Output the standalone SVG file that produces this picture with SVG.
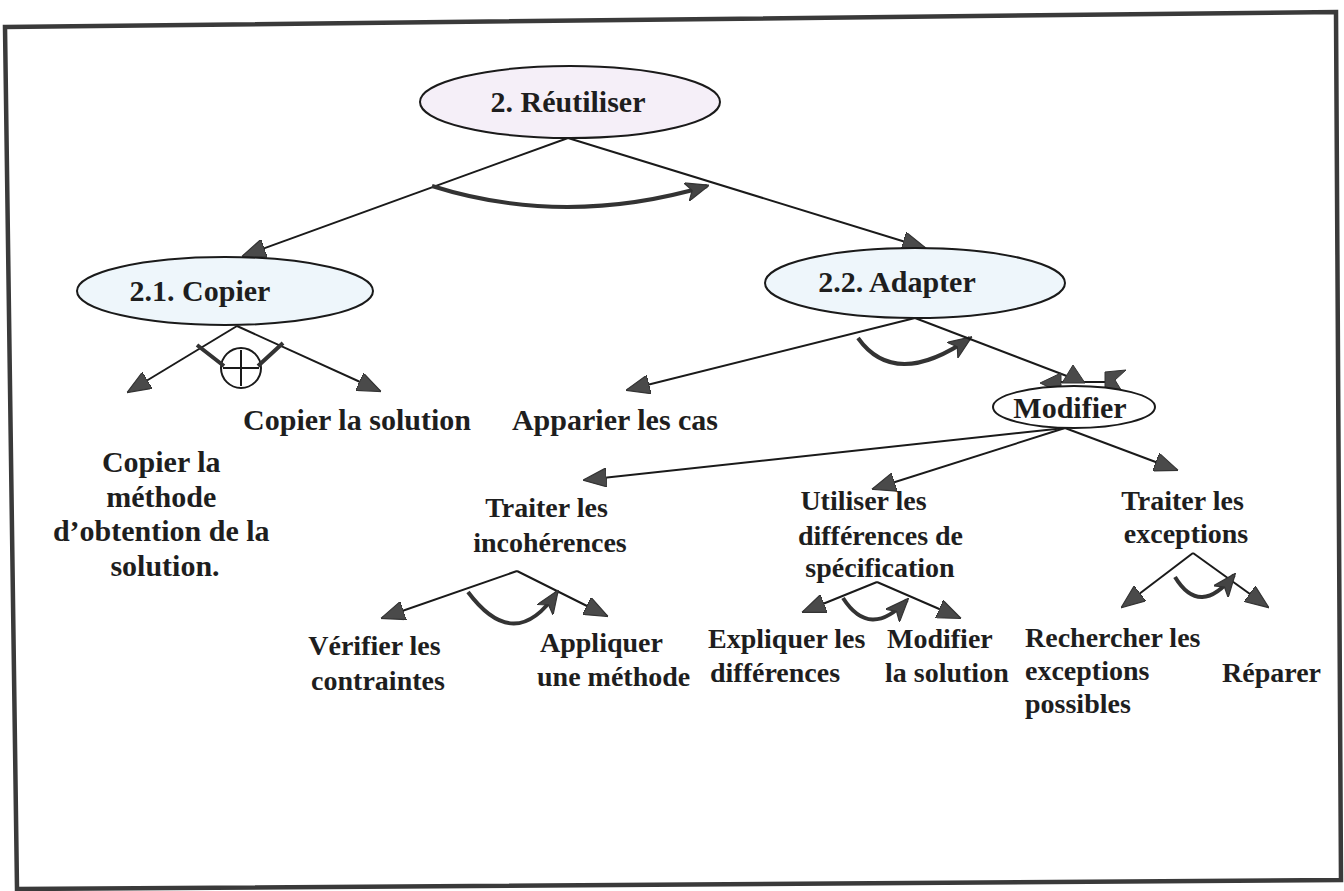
<svg xmlns="http://www.w3.org/2000/svg" width="1344" height="891" viewBox="0 0 1344 891">
  <style>
    .t { font-family: "Liberation Serif", "Times New Roman", serif; font-weight: bold; fill: #1e1e1e; }
    .big { font-size: 30px; }
    .mid { font-size: 28px; }
    .node { stroke: #1a1a1a; stroke-width: 2; }
    .edge { fill: none; stroke: #1a1a1a; stroke-width: 2; }
    .flow { fill: none; stroke: #333; stroke-width: 4; }
  </style>
  <defs>
    <marker id="head" viewBox="0 0 20 16" refX="19" refY="8" markerWidth="24" markerHeight="19" markerUnits="userSpaceOnUse" orient="auto">
      <path d="M0,0 L20,8 L0,16 Z" fill="#4a4a4a" stroke="#333" stroke-width="1"/>
    </marker>
    <marker id="headFlow" viewBox="0 0 20 16" refX="18" refY="8" markerWidth="24" markerHeight="19" markerUnits="userSpaceOnUse" orient="auto">
      <path d="M0,0 L20,8 L0,16 L5,8 Z" fill="#444" stroke="#333" stroke-width="1"/>
    </marker>
  </defs>

  <rect width="1344" height="891" fill="#ffffff"/>
  <!-- outer frame -->
  <polygon points="5,27 1336,12 1341,880 17,889" fill="none" stroke="#3a3a3a" stroke-width="4.5"/>

  <!-- connectors -->
  <g id="connectors">
    <path class="edge" d="M568,138 L243,256" marker-end="url(#head)"/>
    <path class="edge" d="M568,138 L925,248" marker-end="url(#head)"/>
    <path class="flow" d="M432,186 Q565,228 707,186" marker-end="url(#headFlow)"/>

    <path class="edge" d="M237,326 L128,392" marker-end="url(#head)"/>
    <path class="edge" d="M237,326 L380,391" marker-end="url(#head)"/>
    <g id="xor">
      <circle cx="241" cy="368" r="20" fill="#fff" stroke="#1a1a1a" stroke-width="2"/>
      <path d="M241,350 V386 M223,368 H259" stroke="#1a1a1a" stroke-width="2"/>
      <path d="M197,345 L224,366 M283,343 L258,366" stroke="#333" stroke-width="4"/>
    </g>

    <path class="edge" d="M915,318 L627,390" marker-end="url(#head)"/>
    <path class="flow" d="M858,338 Q895,390 970,338" marker-end="url(#headFlow)"/>
    <path class="edge" d="M915,318 L1072,378"/>
    <g id="modifier-heads">
      <path class="edge" d="M1045,382 L1112,382"/>
      <path d="M1040,383 L1061,373 L1061,393 Z" fill="#4a4a4a" stroke="#333"/>
      <path d="M1073,365 L1062,383 L1085,383 Z" fill="#4a4a4a" stroke="#333"/>
      <path d="M1105,372 L1126,370 L1115,380 L1123,393 L1105,390 Z" fill="#4a4a4a" stroke="#333"/>
    </g>

    <path class="edge" d="M1065,428 L584,480" marker-end="url(#head)"/>
    <path class="edge" d="M1065,428 L873,489" marker-end="url(#head)"/>
    <path class="edge" d="M1065,428 L1177,470" marker-end="url(#head)"/>

    <path class="edge" d="M517,571 L382,618" marker-end="url(#head)"/>
    <path class="edge" d="M517,571 L607,616" marker-end="url(#head)"/>
    <path class="flow" d="M468,592 Q515,655 557,592" marker-end="url(#headFlow)"/>

    <path class="edge" d="M877,582 L803,612" marker-end="url(#head)"/>
    <path class="edge" d="M877,582 L960,618" marker-end="url(#head)"/>
    <path class="flow" d="M843,598 Q870,640 907,600" marker-end="url(#headFlow)"/>

    <path class="edge" d="M1193,553 L1122,607" marker-end="url(#head)"/>
    <path class="edge" d="M1193,553 L1268,607" marker-end="url(#head)"/>
    <path class="flow" d="M1175,577 Q1200,618 1234,575" marker-end="url(#headFlow)"/>
  </g>

  <!-- nodes -->
  <g id="reutiliser">
    <ellipse class="node" cx="570" cy="102" rx="150" ry="36" fill="#f5eff8"/>
    <text class="t big" x="568" y="112" text-anchor="middle">2. Réutiliser</text>
  </g>
  <g id="copier">
    <ellipse class="node" cx="225" cy="291" rx="148" ry="34" fill="#eef6fb"/>
    <text class="t big" x="200" y="301" text-anchor="middle">2.1. Copier</text>
  </g>
  <g id="adapter">
    <ellipse class="node" cx="915" cy="283" rx="150" ry="35" fill="#eef6fb"/>
    <text class="t big" x="897" y="292" text-anchor="middle">2.2. Adapter</text>
  </g>
  <g id="modifier">
    <ellipse class="node" cx="1074" cy="407" rx="81" ry="21" fill="#ffffff"/>
    <text class="t big" x="1070" y="418" text-anchor="middle">Modifier</text>
  </g>

  <g id="copier-solution">
    <text class="t big" x="357" y="430" text-anchor="middle">Copier la solution</text>
  </g>
  <g id="copier-methode">
    <text class="t big" text-anchor="middle">
      <tspan x="165" y="472">Copier la</tspan>
      <tspan x="165" y="507">méthode</tspan>
      <tspan x="165" y="541">d’obtention de la</tspan>
      <tspan x="165" y="576">solution.</tspan>
    </text>
  </g>
  <g id="apparier">
    <text class="t big" x="615" y="430" text-anchor="middle">Apparier les cas</text>
  </g>

  <g id="incoherences">
    <text class="t mid" text-anchor="middle">
      <tspan x="550" y="517">Traiter les</tspan>
      <tspan x="550" y="552">incohérences</tspan>
    </text>
  </g>
  <g id="specification">
    <text class="t mid" text-anchor="middle">
      <tspan x="867" y="510">Utiliser les</tspan>
      <tspan x="884" y="545">différences de</tspan>
      <tspan x="880" y="577">spécification</tspan>
    </text>
  </g>
  <g id="exceptions">
    <text class="t mid" text-anchor="middle">
      <tspan x="1186" y="510">Traiter les</tspan>
      <tspan x="1186" y="543">exceptions</tspan>
    </text>
  </g>

  <g id="verifier">
    <text class="t mid" text-anchor="middle">
      <tspan x="378" y="655">Vérifier les</tspan>
      <tspan x="378" y="690">contraintes</tspan>
    </text>
  </g>
  <g id="appliquer">
    <text class="t mid">
      <tspan x="540" y="652">Appliquer</tspan>
      <tspan x="537" y="686">une méthode</tspan>
    </text>
  </g>
  <g id="expliquer">
    <text class="t mid">
      <tspan x="708" y="648">Expliquer les</tspan>
      <tspan x="710" y="682">différences</tspan>
    </text>
  </g>
  <g id="modifier-solution">
    <text class="t mid">
      <tspan x="887" y="648">Modifier</tspan>
      <tspan x="885" y="682">la solution</tspan>
    </text>
  </g>
  <g id="rechercher">
    <text class="t mid">
      <tspan x="1025" y="647">Rechercher les</tspan>
      <tspan x="1025" y="680">exceptions</tspan>
      <tspan x="1025" y="713">possibles</tspan>
    </text>
  </g>
  <g id="reparer">
    <text class="t mid" x="1222" y="682">Réparer</text>
  </g>
</svg>
